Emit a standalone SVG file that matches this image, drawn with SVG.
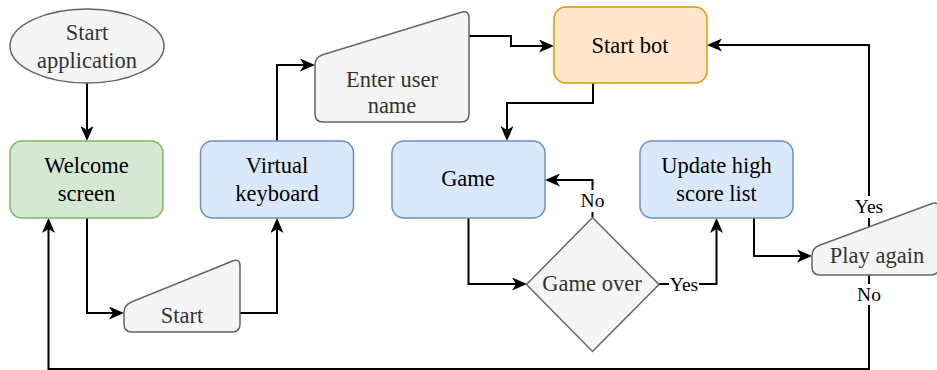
<svg xmlns="http://www.w3.org/2000/svg" width="937" height="370" viewBox="0 0 937 370">
  <style>
    .node text { font-family: "Liberation Serif", "Times New Roman", serif; font-size: 22.5px; text-anchor: middle; }
    .gray { fill: #f5f5f5; stroke: #666666; stroke-width: 1.5; }
    .gray-t { fill: #333333; }
    .green { fill: #d5e8d4; stroke: #82b366; stroke-width: 1.5; }
    .blue { fill: #dae8fc; stroke: #6c8ebf; stroke-width: 1.5; }
    .orange { fill: #ffe6cc; stroke: #d79b00; stroke-width: 1.5; }
    .dark-t { fill: #000000; }
    .edge { fill: none; stroke: #000000; stroke-width: 2; marker-end: url(#arrow); }
    .lbl-bg { fill: #ffffff; }
    .lbl { font-family: "Liberation Serif", "Times New Roman", serif; font-size: 19.5px; text-anchor: middle; fill: #000000; }
  </style>
  <defs>
    <marker id="arrow" viewBox="0 0 15 13" markerWidth="15" markerHeight="13" refX="11" refY="6.5" orient="auto" markerUnits="userSpaceOnUse">
      <path d="M0,0 L15,6.5 L0,13 L4,6.5 Z" fill="#000000"/>
    </marker>
  </defs>

  <rect width="937" height="370" fill="#ffffff"/>

  <!-- connectors -->
  <g id="connectors">
    <path class="edge" d="M87,83 L87,137"/>
    <path class="edge" d="M87,218 L87,313 L120,313"/>
    <path class="edge" d="M240,313 L277,313 L277,222"/>
    <path class="edge" d="M277,141 L277,65 L311,65"/>
    <path class="edge" d="M469,36 L511,36 L511,46 L550,46"/>
    <path class="edge" d="M593,83 L593,103 L507,103 L507,137"/>
    <path class="edge" d="M468.5,218 L468.5,284 L523,284"/>
    <path class="edge" d="M592.5,217 L592.5,180 L549,180"/>
    <path class="edge" d="M659,284 L716.5,284 L716.5,222"/>
    <path class="edge" d="M754,218 L754,256 L808,256"/>
    <path class="edge" d="M869,227 L869,45 L711,45"/>
    <path class="edge" d="M869,275 L869,369 L48.5,369 L48.5,222"/>

    <!-- edge labels -->
    <rect class="lbl-bg" x="580" y="190" width="25" height="22"/>
    <text class="lbl" x="592.5" y="207">No</text>
    <rect class="lbl-bg" x="669" y="273" width="30" height="22"/>
    <text class="lbl" x="684" y="291">Yes</text>
    <rect class="lbl-bg" x="854" y="196" width="30" height="22"/>
    <text class="lbl" x="869" y="213">Yes</text>
    <rect class="lbl-bg" x="856" y="284" width="26" height="21"/>
    <text class="lbl" x="869" y="301">No</text>
  </g>

  <g id="start-application" class="node">
    <ellipse class="gray" cx="87" cy="46" rx="77" ry="37"/>
    <text class="gray-t" x="87" y="40">Start</text>
    <text class="gray-t" x="87" y="68">application</text>
  </g>

  <g id="welcome-screen" class="node">
    <rect class="green" x="10" y="141" width="153" height="77" rx="12"/>
    <text class="dark-t" x="86.5" y="173">Welcome</text>
    <text class="dark-t" x="86.5" y="201">screen</text>
  </g>

  <g id="start" class="node">
    <path class="gray" d="M124,313 Q124,305 131.4,302 L232.6,261 Q240,258 240,266 L240,324 Q240,332 232,332 L132,332 Q124,332 124,324 Z"/>
    <text class="gray-t" x="182" y="323">Start</text>
  </g>

  <g id="virtual-keyboard" class="node">
    <rect class="blue" x="200.5" y="141" width="153" height="77" rx="12"/>
    <text class="dark-t" x="277" y="173">Virtual</text>
    <text class="dark-t" x="277" y="201">keyboard</text>
  </g>

  <g id="enter-user-name" class="node">
    <path class="gray" d="M315,65 Q315,57 322.65,54.67 L461.35,12.33 Q469,10 469,18 L469,114 Q469,122 461,122 L323,122 Q315,122 315,114 Z"/>
    <text class="gray-t" x="392" y="87">Enter user</text>
    <text class="gray-t" x="392" y="113">name</text>
  </g>

  <g id="start-bot" class="node">
    <rect class="orange" x="554" y="7" width="153" height="76" rx="12"/>
    <text class="dark-t" x="630" y="53">Start bot</text>
  </g>

  <g id="game" class="node">
    <rect class="blue" x="392" y="141" width="153" height="77" rx="12"/>
    <text class="dark-t" x="468" y="186">Game</text>
  </g>

  <g id="game-over" class="node">
    <path class="gray" d="M592.5,217.5 L659,284.5 L592.5,351.5 L526.5,284.5 Z"/>
    <text class="gray-t" x="592" y="291">Game over</text>
  </g>

  <g id="update-high-score-list" class="node">
    <rect class="blue" x="640" y="141" width="153" height="77" rx="12"/>
    <text class="dark-t" x="716.5" y="173">Update high</text>
    <text class="dark-t" x="716.5" y="201">score list</text>
  </g>

  <g id="play-again" class="node">
    <path class="gray" d="M812,256 Q812,248 819.5,245.2 L931.5,203.8 Q939,201 939,209 L939,267 Q939,275 931,275 L820,275 Q812,275 812,267 Z"/>
    <text class="gray-t" x="877" y="263">Play again</text>
  </g>
</svg>
